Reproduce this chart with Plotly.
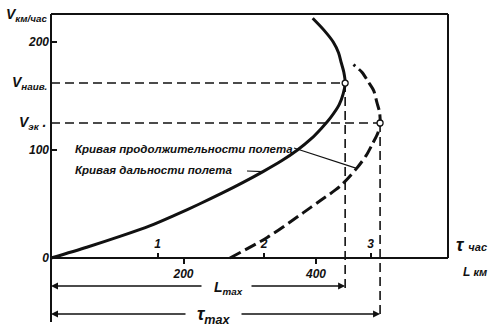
import plotly.graph_objects as go

# Range curve: flight distance L (km) against airspeed V (km/h)
range_V = [0, 10, 20, 30, 40, 50, 60, 70, 80, 90, 100, 110, 120, 130, 142, 152, 162, 172, 181, 190, 200, 211, 222]
range_L = [0, 54, 104, 150, 188, 224, 258, 290, 320, 348, 372, 392, 408, 422, 435, 441, 444, 442, 438, 434, 426, 412, 395]

# Endurance curve: flight time tau (h) against airspeed V (km/h)
dur_V = [0, 19, 42, 54, 66, 83, 95, 106, 116, 125, 135, 144, 155, 163, 172, 179]
dur_T = [1.68, 2.03, 2.37, 2.54, 2.71, 2.87, 2.96, 3.02, 3.07, 3.09, 3.085, 3.06, 3.03, 2.98, 2.92, 2.84]

# Characteristic speeds and maxima
V_naiv = 162      # speed of best range
V_ek = 125        # speed of best endurance
L_max = 444       # km
tau_max = 3.09    # h

L_ticks = [200, 400]
tau_ticks = [1, 2, 3]
V_ticks = [0, 100, 200]

# ---- page geometry (pixels) ----
W, H = 500, 330
PX0, PX1 = 50, 452          # plot area left / right
PY0, PY1 = 10, 330          # plot area top / bottom
OX, OY = 51, 258            # origin of the diagram
KM_PX, H_PX, V_PX = 0.6625, 106.5, 1.08


def L_at(px):
    return (px - OX) / KM_PX


def T_at(px):
    return (px - OX) / H_PX


def V_at(py):
    return (OY - py) / V_PX


def paper_x(px):
    return (px - PX0) / (PX1 - PX0)


FONT = "Liberation Sans"
BLACK = "#111111"

fig = go.Figure()

# range curve (solid)
fig.add_trace(go.Scatter(
    x=range_L, y=range_V, mode="lines", xaxis="x", yaxis="y",
    line=dict(color=BLACK, width=3, shape="spline", smoothing=0.8),
    hoverinfo="skip", showlegend=False))

# endurance curve (dashed)
fig.add_trace(go.Scatter(
    x=dur_T, y=dur_V, mode="lines", xaxis="x2", yaxis="y",
    line=dict(color=BLACK, width=3, dash="12px,5px", shape="spline", smoothing=0.8),
    hoverinfo="skip", showlegend=False))

guide = dict(color=BLACK, width=1.6, dash="9px,5px")
y_Larrow = V_at(286)
y_Tarrow = V_at(314)

# guides through the best-range point
fig.add_trace(go.Scatter(x=[0, L_max], y=[V_naiv, V_naiv], mode="lines", xaxis="x",
                         line=guide, hoverinfo="skip", showlegend=False))
fig.add_trace(go.Scatter(x=[L_max, L_max], y=[V_naiv, V_at(292)], mode="lines", xaxis="x",
                         line=guide, hoverinfo="skip", showlegend=False, cliponaxis=False))
# guides through the best-endurance point
fig.add_trace(go.Scatter(x=[0, tau_max], y=[V_ek, V_ek], mode="lines", xaxis="x2",
                         line=guide, hoverinfo="skip", showlegend=False))
fig.add_trace(go.Scatter(x=[tau_max, tau_max], y=[V_ek, V_at(318)], mode="lines", xaxis="x2",
                         line=guide, hoverinfo="skip", showlegend=False, cliponaxis=False))

# open circles at the tangent points
pt = dict(size=6, color="white", line=dict(color=BLACK, width=1.3))
fig.add_trace(go.Scatter(x=[L_max], y=[V_naiv], mode="markers", xaxis="x",
                         marker=pt, hoverinfo="skip", showlegend=False))
fig.add_trace(go.Scatter(x=[tau_max], y=[V_ek], mode="markers", xaxis="x2",
                         marker=pt, hoverinfo="skip", showlegend=False))

frame = dict(color=BLACK, width=2)
L_right = L_at(448)
V_top = V_at(14)
shapes = [
    dict(type="line", xref="x", yref="y", x0=0, x1=0, y0=V_at(322), y1=V_top, line=frame),
    dict(type="line", xref="x", yref="y", x0=0, x1=L_right, y0=V_top, y1=V_top, line=frame),
    dict(type="line", xref="x", yref="y", x0=L_right, x1=L_right, y0=0, y1=V_top, line=frame),
    dict(type="line", xref="x", yref="y", x0=0, x1=L_right, y0=0, y1=0, line=frame),
    # leader from the endurance caption to the dashed curve
    dict(type="line", xref="x2", yref="y", x0=T_at(294), y0=V_at(148), x1=dur_T[5], y1=dur_V[5],
         line=dict(color=BLACK, width=1.1)),
    # leader from the range caption to the solid curve
    dict(type="line", xref="x", yref="y", x0=L_at(247), y0=V_at(171), x1=range_L[8], y1=range_V[8],
         line=dict(color=BLACK, width=1.1)),
]

it = dict(family=FONT, color=BLACK, weight="bold")
ann = []


def label(text, x, y, size=12, xanchor="left", xref="paper", yref="y"):
    ann.append(dict(text="<i>" + text + "</i>", x=x, y=y, xref=xref, yref=yref,
                    xanchor=xanchor, yanchor="middle", showarrow=False,
                    font=dict(size=size, **it)))


# axis labels at the left
label("V<sub>км/час</sub>", paper_x(49), V_at(15), size=14, xanchor="right")
label("V<sub>наив.</sub>", paper_x(49), V_naiv, size=14, xanchor="right")
label("V<sub>эк</sub> .", paper_x(49), V_ek, size=14, xanchor="right")

# axis names at the right
label("τ <span style='font-size:11px'>час</span>", paper_x(454), V_at(245), size=18)
label("L <span style='font-size:11px'>км</span>", paper_x(461), V_at(272), size=12)

# curve captions
label("Кривая продолжительности полета", L_at(73), V_at(149), size=11.5, xref="x")
label("Кривая дальности полета", L_at(73), V_at(170), size=11.5, xref="x")

# arrows for L_max and tau_max
arrow = dict(showarrow=True, arrowhead=2, arrowsize=1, arrowwidth=1.4, arrowcolor=BLACK,
             text="", standoff=0, startstandoff=0, font=dict(size=10, family=FONT))
ann.append(dict(xref="x", yref="y", axref="x", ayref="y", x=0, y=y_Larrow,
                ax=L_at(203), ay=y_Larrow, **arrow))
ann.append(dict(xref="x", yref="y", axref="x", ayref="y", x=L_max, y=y_Larrow,
                ax=L_at(250), ay=y_Larrow, **arrow))
ann.append(dict(xref="x2", yref="y", axref="x2", ayref="y", x=0, y=y_Tarrow,
                ax=T_at(187), ay=y_Tarrow, **arrow))
ann.append(dict(xref="x2", yref="y", axref="x2", ayref="y", x=tau_max, y=y_Tarrow,
                ax=T_at(240), ay=y_Tarrow, **arrow))
label("L<sub>max</sub>", L_at(228), V_at(288), size=14, xanchor="center", xref="x")
label("τ<sub>max</sub>", T_at(214), V_at(315), size=18, xanchor="center", xref="x2")

pos = (PY1 - OY) / (PY1 - PY0)
tickfont = dict(family=FONT, size=12, color=BLACK, weight="bold")


def italic(vals):
    return ["<i>%g</i>" % v for v in vals]


fig.update_layout(
    width=W, height=H,
    margin=dict(l=PX0, r=W - PX1, t=PY0, b=H - PY1, pad=0),
    paper_bgcolor="white", plot_bgcolor="white",
    showlegend=False,
    xaxis=dict(range=[L_at(PX0), L_at(PX1)], anchor="free", position=pos,
               tickvals=L_ticks, ticktext=italic(L_ticks),
               ticks="outside", ticklen=5, tickwidth=1.5, tickcolor=BLACK,
               tickfont=tickfont, showline=False, showgrid=False, zeroline=False),
    xaxis2=dict(range=[T_at(PX0), T_at(PX1)], overlaying="x", anchor="free", position=pos,
                side="top", tickvals=tau_ticks, ticktext=italic(tau_ticks),
                ticks="outside", ticklen=5, tickwidth=1.5,
                tickcolor=BLACK, tickfont=tickfont, showline=False, showgrid=False, zeroline=False),
    yaxis=dict(range=[V_at(PY1), V_at(PY0)], tickvals=V_ticks, ticktext=italic(V_ticks),
               ticks="inside", ticklen=7,
               tickwidth=1.5, tickcolor=BLACK, tickfont=tickfont,
               showline=False, showgrid=False, zeroline=False),
    shapes=shapes,
    annotations=ann,
)

fig.write_html("out.html")
